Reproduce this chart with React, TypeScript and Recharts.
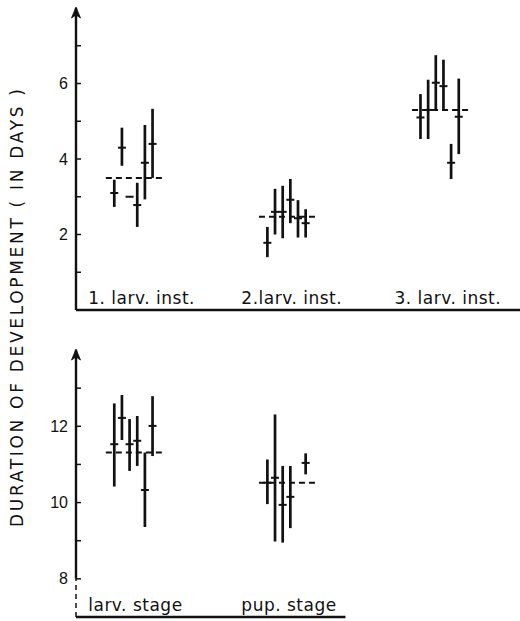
import React from "react";
import {
  ComposedChart,
  Scatter,
  ErrorBar,
  XAxis,
  YAxis,
  ReferenceLine,
  ReferenceDot,
} from "recharts";

// ---- data (days) ----
const topCategories = ["1. larv. inst.", "2.larv. inst.", "3. larv. inst."];
const topMeans = [3.5, 2.47, 5.3];
const topMid = [
  [3.1, 4.3, 3.0, 2.78, 3.9, 4.4],
  [1.78, 2.6, 2.6, 2.92, 2.43, 2.3],
  [5.1, 5.3, 6.02, 5.93, 3.9, 5.12],
];
const topLow = [
  [2.73, 3.82, 3.0, 2.2, 2.93, 3.5],
  [1.4, 2.0, 1.9, 2.3, 1.92, 1.92],
  [4.53, 4.53, 5.3, 5.3, 3.47, 4.13],
];
const topHigh = [
  [3.45, 4.83, 3.0, 3.37, 4.9, 5.33],
  [2.2, 3.21, 3.29, 3.47, 2.91, 2.67],
  [5.72, 6.1, 6.75, 6.63, 4.4, 6.13],
];
const topTicks = [1, 2, 3, 4, 5, 6, 7];
const topTickLabels = [2, 4, 6];

const bottomCategories = ["larv. stage", "pup. stage"];
const bottomMeans = [11.31, 10.52];
const bottomMid = [
  [11.53, 12.22, 11.53, 11.62, 10.33, 12.01],
  [10.52, 10.65, 9.94, 10.15, null, 11.04],
];
const bottomLow = [
  [10.42, 11.64, 10.83, 10.96, 9.36, 11.22],
  [9.96, 8.98, 8.95, 9.33, null, 10.74],
];
const bottomHigh = [
  [12.6, 12.82, 12.19, 12.27, 11.31, 12.79],
  [11.13, 12.31, 10.96, 10.96, null, 11.29],
];
const bottomTicks = [8, 9, 10, 11, 12, 13];
const bottomTickLabels = [8, 10, 12];

// ---- layout ----
const INK = "#111";
const W = 520;
const GROUP_GAP = 20; // slots between group starts
const X_DOMAIN: [number, number] = [-5, 53];
const LABEL_SHIFT = -3.4;
const MEAN_FROM = -1.1;
const MEAN_TO = 6.7;
const BOTTOM_AXIS_END = 30.2;
const LABEL_FONT = "'DejaVu Sans', sans-serif";

type Cell = number | null;

function buildPoints(mid: Cell[][], low: Cell[][], high: Cell[][]) {
  const pts: { x: number; y: number; err: [number, number] }[] = [];
  mid.forEach((row, i) =>
    row.forEach((m, j) => {
      if (m == null) return;
      const lo = low[i][j] as number;
      const hi = high[i][j] as number;
      pts.push({ x: i * GROUP_GAP + j, y: m, err: [m - lo, hi - m] });
    })
  );
  return pts;
}

const topPoints = buildPoints(topMid, topLow, topHigh);
const bottomPoints = buildPoints(bottomMid, bottomLow, bottomHigh);

const makeYTick = (labels: number[]) => (props: any) => {
  const { x, y, payload } = props;
  return (
    <g>
      <line x1={x} x2={x + 5} y1={y} y2={y} stroke={INK} strokeWidth={1.5} />
      {labels.includes(payload.value) && (
        <text
          x={x - 8}
          y={y}
          dy={5.5}
          textAnchor="end"
          fontSize={16}
          fontFamily="'Liberation Sans', Arial, sans-serif"
          fill={INK}
        >
          {payload.value}
        </text>
      )}
    </g>
  );
};

const makeLabel = (text: string) => (props: any) => {
  const { cx, cy } = props;
  return (
    <text
      x={cx}
      y={cy - 6}
      textAnchor="start"
      fontSize={17}
      letterSpacing={0.5}
      fontFamily={LABEL_FONT}
      fill={INK}
    >
      {text}
    </text>
  );
};

const MeanMark = (props: any) => {
  const { cx, cy } = props;
  return (
    <line x1={cx - 4} x2={cx + 4} y1={cy} y2={cy} stroke={INK} strokeWidth={2} />
  );
};

const Arrow = (props: any) => {
  const { cx, cy } = props;
  return (
    <path
      d={`M${cx},${cy - 1} L${cx + 4.5},${cy + 10} L${cx},${cy + 7} L${cx - 4.5},${cy + 10} Z`}
      fill={INK}
      stroke={INK}
      strokeWidth={0.8}
    />
  );
};

function Panel({
  height,
  margin,
  domain,
  points,
  means,
  names,
  ticks,
  tickLabels,
  broken,
}: any) {
  const [yMin, yMax] = domain;
  const x0 = X_DOMAIN[0];
  return (
    <ComposedChart width={W} height={height} margin={margin}>
      <XAxis
        type="number"
        dataKey="x"
        domain={X_DOMAIN}
        allowDataOverflow
        hide
      />
      <YAxis
        type="number"
        dataKey="y"
        domain={domain}
        allowDataOverflow
        width={76}
        ticks={ticks}
        interval={0}
        tickSize={0}
        tickMargin={0}
        tickLine={false}
        tick={makeYTick(tickLabels)}
        axisLine={false}
      />
      {/* y axis line (dashed break below first tick on lower panel) */}
      <ReferenceLine
        segment={[
          { x: x0, y: broken ? ticks[0] : yMin },
          { x: x0, y: yMax },
        ]}
        stroke={INK}
        strokeWidth={2.4}
        ifOverflow="visible"
      />
      {broken && (
        <ReferenceLine
          segment={[
            { x: x0, y: yMin },
            { x: x0, y: ticks[0] },
          ]}
          stroke={INK}
          strokeWidth={1.5}
          strokeDasharray="5 4"
          ifOverflow="visible"
        />
      )}
      {/* x axis line */}
      <ReferenceLine
        segment={[
          { x: x0, y: yMin },
          { x: broken ? BOTTOM_AXIS_END : X_DOMAIN[1], y: yMin },
        ]}
        stroke={INK}
        strokeWidth={2.4}
        ifOverflow="visible"
      />
      {means.map((m: number, i: number) => (
        <ReferenceLine
          key={"m" + i}
          segment={[
            { x: i * GROUP_GAP + MEAN_FROM, y: m },
            { x: i * GROUP_GAP + MEAN_TO, y: m },
          ]}
          stroke={INK}
          strokeWidth={2}
          strokeDasharray="6 4"
          ifOverflow="visible"
        />
      ))}
      <Scatter data={points} shape={MeanMark} isAnimationActive={false}>
        <ErrorBar
          dataKey="err"
          direction="y"
          width={0}
          stroke={INK}
          strokeWidth={2.7}
          isAnimationActive={false}
        />
      </Scatter>
      {names.map((n: string, i: number) => (
        <ReferenceDot
          key={"l" + i}
          x={i * GROUP_GAP + LABEL_SHIFT}
          y={yMin}
          r={0}
          shape={makeLabel(n)}
          ifOverflow="visible"
        />
      ))}
      <ReferenceDot x={x0} y={yMax} r={0} shape={Arrow} ifOverflow="visible" />
    </ComposedChart>
  );
}

export default function App() {
  return (
    <div
      style={{
        position: "absolute",
        left: 0,
        top: 0,
        width: W,
        height: 621,
        background: "#fff",
      }}
    >
      <Panel
        height={320}
        margin={{ top: 8, right: 0, bottom: 10, left: 0 }}
        domain={[0, 8]}
        points={topPoints}
        means={topMeans}
        names={topCategories}
        ticks={topTicks}
        tickLabels={topTickLabels}
        broken={false}
      />
      <Panel
        height={301}
        margin={{ top: 30, right: 0, bottom: 4, left: 0 }}
        domain={[7, 14]}
        points={bottomPoints}
        means={bottomMeans}
        names={bottomCategories}
        ticks={bottomTicks}
        tickLabels={bottomTickLabels}
        broken={true}
      />
      <svg
        width={W}
        height={621}
        style={{ position: "absolute", left: 0, top: 0, pointerEvents: "none" }}
      >
        <text
          transform="translate(23,308) rotate(-90)"
          textAnchor="middle"
          fontSize={17}
          fontFamily={LABEL_FONT}
          textLength={438}
          lengthAdjust="spacing"
          fill={INK}
        >
          DURATION OF DEVELOPMENT ( IN DAYS )
        </text>
      </svg>
    </div>
  );
}
